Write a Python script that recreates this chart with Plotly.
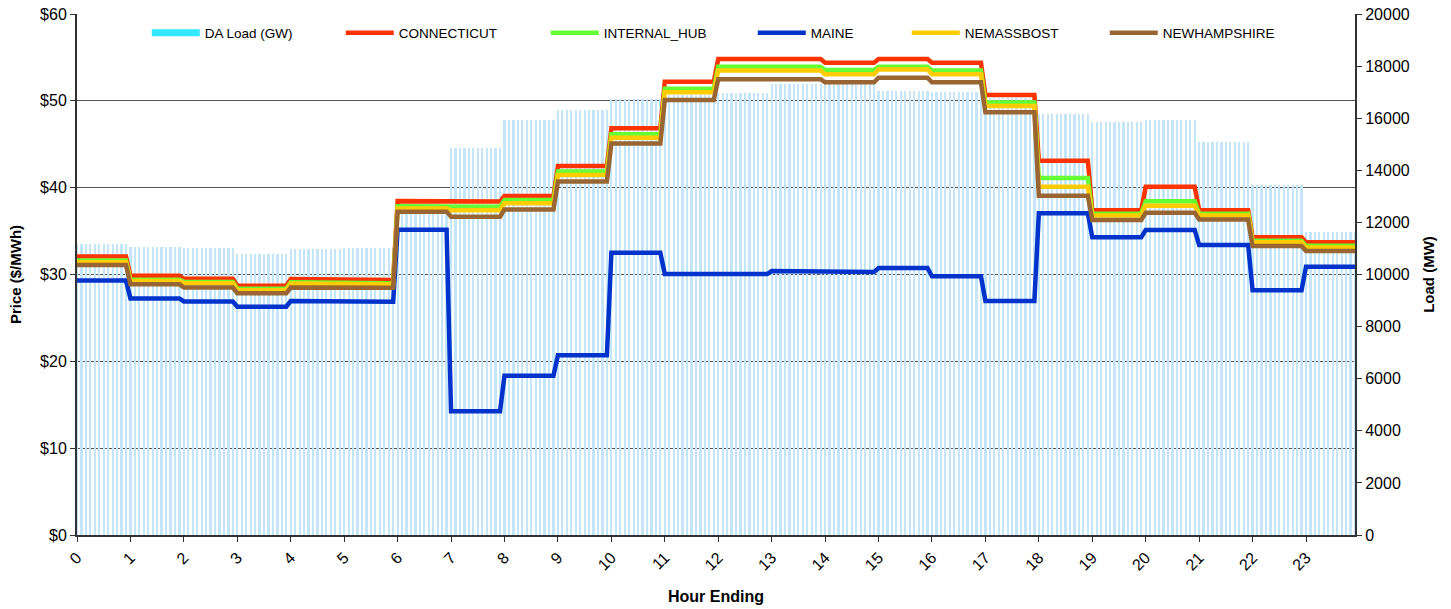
import numpy as np
import plotly.graph_objects as go

# ---- data (hourly values) ----
hours = list(range(24))
hour_labels = [str(h) for h in hours]
steps_per_hour = 12  # 5-minute intervals

da_load_mw = [11170, 11070, 11020, 10800, 10980, 11020, 12600, 14860,
              15930, 16320, 16740, 16900, 16980, 17300, 17300, 17040,
              17010, 16790, 16160, 15850, 15930, 15090, 13440, 11630]

connecticut = [32.06, 29.85, 29.50, 28.70, 29.48, 29.37, 38.45, 38.40,
               39.05, 42.50, 46.85, 52.20, 54.82, 54.82, 54.40, 54.82,
               54.40, 50.67, 43.10, 37.40, 40.10, 37.40, 34.30, 33.70]
internal_hub = [31.60, 29.40, 29.15, 28.35, 29.10, 29.00, 37.85, 37.80,
                38.58, 41.85, 46.15, 51.40, 53.93, 53.93, 53.55, 53.93,
                53.50, 49.80, 41.10, 37.00, 38.45, 37.00, 33.90, 33.30]
maine = [29.30, 27.25, 26.90, 26.30, 26.95, 26.85, 35.15, 14.25,
         18.35, 20.70, 32.50, 30.05, 30.05, 30.40, 30.30, 30.75,
         29.80, 26.95, 37.05, 34.28, 35.13, 33.40, 28.20, 30.90]
nemassbost = [31.40, 29.25, 29.00, 28.20, 28.95, 28.85, 37.60, 37.40,
              38.20, 41.45, 45.75, 51.00, 53.50, 53.50, 53.05, 53.60,
              53.05, 49.40, 40.10, 36.80, 37.93, 36.80, 33.70, 33.10]
newhampshire = [31.10, 28.87, 28.50, 27.84, 28.50, 28.48, 37.24, 36.66,
                37.50, 40.70, 45.10, 50.10, 52.50, 52.50, 52.13, 52.67,
                52.13, 48.68, 39.08, 36.28, 37.10, 36.33, 33.28, 32.70]

series = [
    ("CONNECTICUT", connecticut, "#ff3300"),
    ("INTERNAL_HUB", internal_hub, "#66ff33"),
    ("MAINE", maine, "#0033cc"),
    ("NEMASSBOST", nemassbost, "#ffcc00"),
    ("NEWHAMPSHIRE", newhampshire, "#996633"),
]
legend_widths = {"CONNECTICUT": 142, "INTERNAL_HUB": 144, "MAINE": 91,
                 "NEMASSBOST": 135, "NEWHAMPSHIRE": 120}

n = len(hours) * steps_per_hour
x = np.arange(n)

FONT = "Liberation Sans, Arial, sans-serif"

fig = go.Figure()

# load bars (main y axis, right side)
fig.add_trace(go.Bar(
    x=x, y=np.repeat(da_load_mw, steps_per_hour), width=0.5,
    marker=dict(color="#c4e6f8", line=dict(width=0)),
    name="DA Load (GW)", legendgroup="load", showlegend=False,
    yaxis="y", hoverinfo="skip",
))
# legend swatch for the load
fig.add_trace(go.Scatter(
    x=[None], y=[None], mode="lines", name="DA Load (GW)",
    legendgroup="load", line=dict(color="#33e8ff", width=7),
    yaxis="y", legendwidth=131,
))

for name, vals, color in series:
    fig.add_trace(go.Scatter(
        x=x, y=np.repeat(vals, steps_per_hour), mode="lines", name=name,
        line=dict(color=color, width=4.5), yaxis="y2",
        legendwidth=legend_widths[name],
    ))

fig.update_layout(
    width=1451, height=609,
    margin=dict(l=77, r=96, t=14, b=74),
    paper_bgcolor="white", plot_bgcolor="white",
    font=dict(family=FONT, size=16, color="black"),
    bargap=0,
    showlegend=True,
    legend=dict(orientation="h", x=0.0546, y=0.9635, xanchor="left",
                yanchor="middle", bgcolor="rgba(0,0,0,0)", itemwidth=48,
                font=dict(family=FONT, size=13.5), traceorder="normal"),
    xaxis=dict(
        range=[0, n - 1], tickmode="array", automargin=False,
        tickvals=[h * steps_per_hour for h in hours], ticktext=hour_labels,
        tickangle=-45, ticks="outside", ticklen=5, tickcolor="#333",
        showline=True, linecolor="#333", linewidth=2, showgrid=False,
        zeroline=False, ticklabeloverflow="allow",
        title=dict(text="<b>Hour Ending</b>", standoff=18,
                   font=dict(family=FONT, size=16)),
        tickfont=dict(family=FONT, size=16),
    ),
    yaxis=dict(
        side="right", range=[0, 20000], dtick=2000, tickformat="d",
        automargin=False, ticklabeloverflow="allow",
        ticks="outside", ticklen=5, tickcolor="#333",
        showline=True, linecolor="#333", linewidth=2, showgrid=False,
        zeroline=False,
        title=dict(text="<b>Load (MW)</b>", font=dict(family=FONT, size=15)),
        tickfont=dict(family=FONT, size=16),
    ),
    yaxis2=dict(
        overlaying="y", side="left", range=[0, 60], dtick=10,
        automargin=False, ticklabeloverflow="allow",
        tickprefix="$", ticks="outside", ticklen=5, tickcolor="#333",
        showline=True, linecolor="#333", linewidth=2,
        showgrid=True, gridcolor="#555", gridwidth=1, zeroline=False,
        title=dict(text="<b>Price ($/MWh)</b>", font=dict(family=FONT, size=15)),
        tickfont=dict(family=FONT, size=16),
    ),
)

fig.write_html("out.html",
               config={"displayModeBar": False},
               post_script="document.body.style.margin='0';")
